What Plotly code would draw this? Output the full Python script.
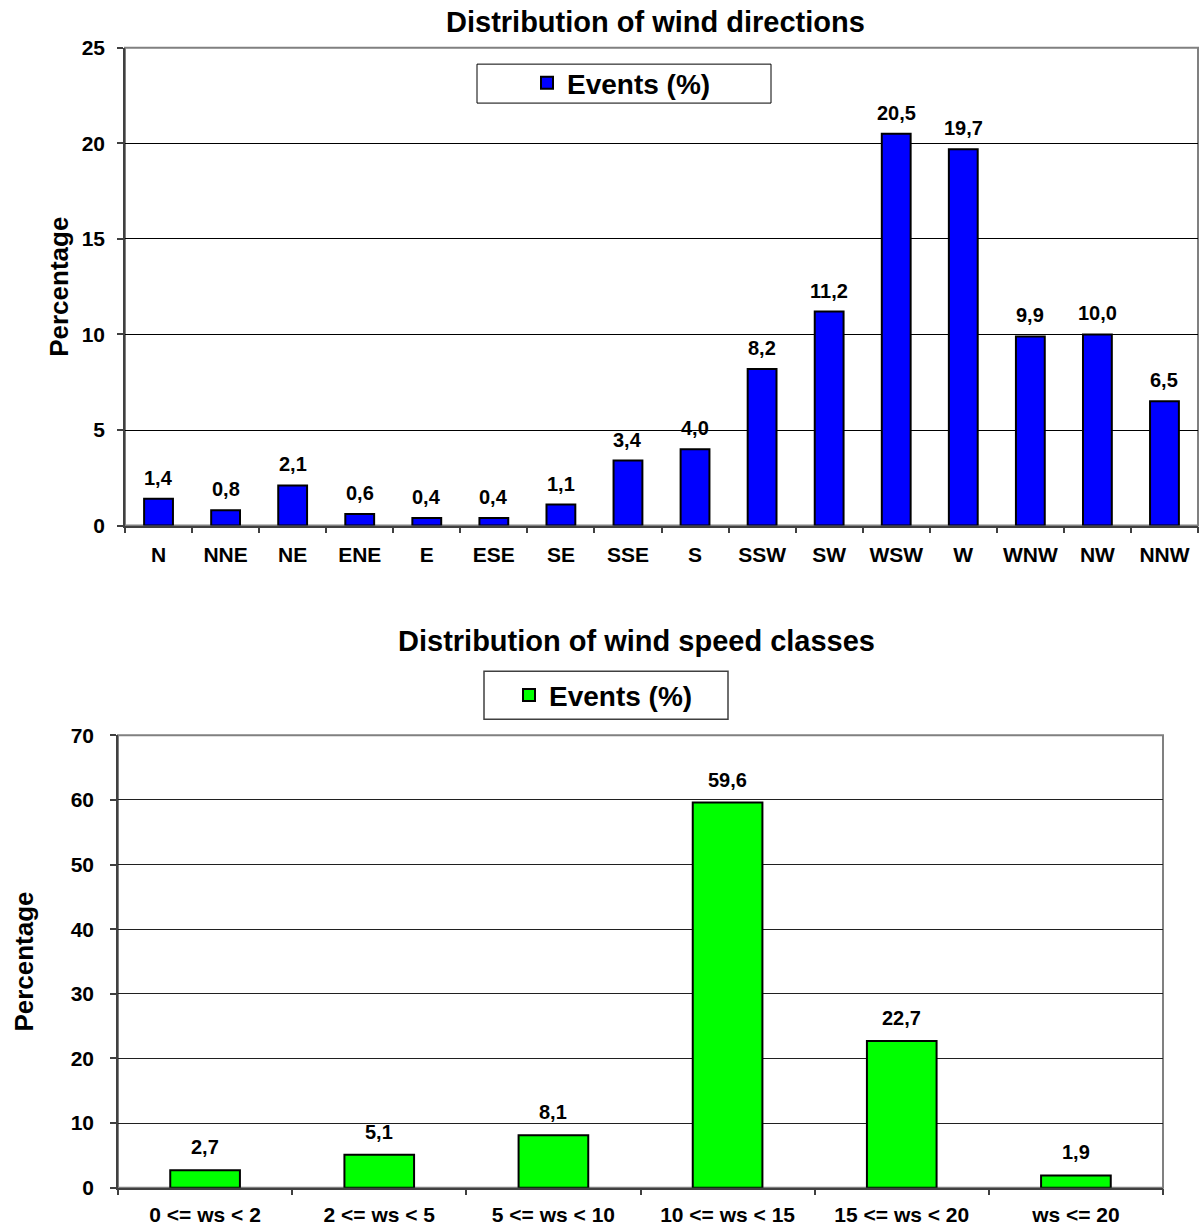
import plotly.graph_objects as go

# ---------------- data ----------------
dir_categories = ["N", "NNE", "NE", "ENE", "E", "ESE", "SE", "SSE", "S",
                  "SSW", "SW", "WSW", "W", "WNW", "NW", "NNW"]
dir_values = [1.4, 0.8, 2.1, 0.6, 0.4, 0.4, 1.1, 3.4, 4.0,
              8.2, 11.2, 20.5, 19.7, 9.9, 10.0, 6.5]

speed_categories = ["0 <= ws < 2", "2 <= ws < 5", "5 <= ws < 10",
                    "10 <= ws < 15", "15 <= ws < 20", "ws <= 20"]
speed_values = [2.7, 5.1, 8.1, 59.6, 22.7, 1.9]

series_name = "Events (%)"
title_dir = "Distribution of wind directions"
title_speed = "Distribution of wind speed classes"
y_title = "Percentage"

# ---------------- style ----------------
W, H = 1199, 1228
FONT = "Liberation Sans, Arial, sans-serif"
Y_OFF, Y_SCALE = 10.8, 0.9825   # empirical correction of the vertical placement


def px_x(p):
    return p / W


def px_y(p):
    return 1 - ((p - Y_OFF) / Y_SCALE) / H


def fmt(v):
    return f"{v:.1f}".replace(".", ",")


fig = go.Figure()

fig.add_trace(go.Bar(
    x=dir_categories, y=dir_values, name=series_name,
    marker=dict(color="#0000FF", line=dict(color="#000000", width=2)),
    width=0.43, xaxis="x", yaxis="y", legend="legend",
))
fig.add_trace(go.Bar(
    x=speed_categories, y=speed_values, name=series_name,
    marker=dict(color="#00FF00", line=dict(color="#000000", width=2)),
    width=0.40, xaxis="x2", yaxis="y2", legend="legend2",
))

tickfont = dict(family=FONT, size=21, color="#000000", weight="bold")
axis_common = dict(
    showline=True, linecolor="#404040", linewidth=1.5,
    ticks="outside", ticklen=6, tickcolor="#404040", tickwidth=1.5,
    tickfont=tickfont, mirror=False, zeroline=False,
)

label_font = dict(family=FONT, size=20, color="#000000", weight="bold")
annotations = []
for c, v in zip(dir_categories, dir_values):
    annotations.append(dict(
        x=c, y=v, xref="x", yref="y", text=fmt(v), showarrow=False,
        yanchor="bottom", yshift=8, font=label_font))
for c, v in zip(speed_categories, speed_values):
    annotations.append(dict(
        x=c, y=v, xref="x2", yref="y2", text=fmt(v), showarrow=False,
        yanchor="bottom", yshift=10, font=label_font))

title_font = dict(family=FONT, size=29, color="#000000", weight="bold")
annotations.append(dict(
    x=px_x(655), y=px_y(21), xref="paper", yref="paper", text=title_dir,
    showarrow=False, xanchor="center", yanchor="middle", font=title_font))
annotations.append(dict(
    x=px_x(636), y=px_y(641), xref="paper", yref="paper", text=title_speed,
    showarrow=False, xanchor="center", yanchor="middle", font=title_font))

shapes = [
    # plot-area borders (grey)
    dict(type="rect", xref="x domain", yref="y domain", x0=0, x1=1, y0=0, y1=1,
         line=dict(color="#808080", width=2), layer="below"),
    dict(type="rect", xref="x2 domain", yref="y2 domain", x0=0, x1=1, y0=0, y1=1,
         line=dict(color="#808080", width=2), layer="below"),
    # legend boxes
    dict(type="rect", xref="paper", yref="paper",
         x0=px_x(477), x1=px_x(771), y0=px_y(102), y1=px_y(63),
         line=dict(color="#000000", width=1), fillcolor="white", layer="below"),
    dict(type="rect", xref="paper", yref="paper",
         x0=px_x(484), x1=px_x(728), y0=px_y(719), y1=px_y(671),
         line=dict(color="#404040", width=1.5), fillcolor="white", layer="below"),
]

legend_font = dict(family=FONT, size=28, color="#000000", weight="bold")
ytitle_font = dict(family=FONT, size=26, color="#000000", weight="bold")

fig.update_layout(
    autosize=True,
    margin=dict(l=0, r=0, t=0, b=0),
    paper_bgcolor="white", plot_bgcolor="white",
    showlegend=True,
    font=dict(family=FONT, color="#000000"),
    xaxis=dict(domain=[px_x(125), px_x(1198)], anchor="y", type="category",
               tickson="boundaries", showgrid=False, ticklabelstandoff=9,
               **axis_common),
    yaxis=dict(domain=[px_y(525), px_y(46.7)], anchor="x", range=[0, 25],
               dtick=5, showgrid=True, gridcolor="#000000", gridwidth=1,
               ticklabelstandoff=8,
               title=dict(text=y_title, standoff=6, font=ytitle_font),
               **axis_common),
    xaxis2=dict(domain=[px_x(118), px_x(1163)], anchor="y2", type="category",
                tickson="boundaries", showgrid=False, ticklabelstandoff=7,
                **axis_common),
    yaxis2=dict(domain=[px_y(1188), px_y(735)], anchor="x2", range=[0, 70],
                dtick=10, showgrid=True, gridcolor="#202020", gridwidth=1,
                ticklabelstandoff=12,
                title=dict(text=y_title, standoff=30, font=ytitle_font),
                **axis_common),
    legend=dict(x=px_x(527), y=px_y(82), xanchor="left", yanchor="middle",
                orientation="h", bgcolor="rgba(0,0,0,0)", borderwidth=0,
                font=legend_font),
    legend2=dict(x=px_x(509), y=px_y(695), xanchor="left", yanchor="middle",
                 orientation="h", bgcolor="rgba(0,0,0,0)", borderwidth=0,
                 font=legend_font),
    annotations=annotations,
    shapes=shapes,
)

fig.write_html(
    "out.html",
    config={"displayModeBar": False, "responsive": True},
    default_width="100vw",
    default_height="100vh",
    post_script=(
        "document.documentElement.style.margin='0';"
        "document.body.style.margin='0';"
        "document.body.style.overflow='hidden';"
        "Plotly.Plots.resize(document.getElementById('{plot_id}'));"
    ),
)
